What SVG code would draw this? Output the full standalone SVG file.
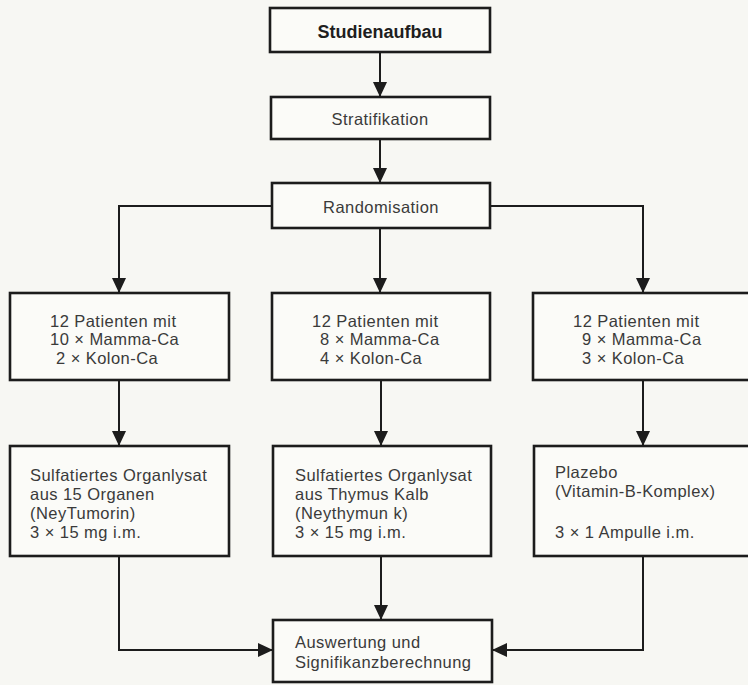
<svg xmlns="http://www.w3.org/2000/svg" width="748" height="685" viewBox="0 0 748 685">
<style>
.box{fill:#fbfbf8;stroke:#1c1c1c;stroke-width:2.6}
.t{font-family:"Liberation Sans",Arial,Helvetica,sans-serif;font-size:16.5px;letter-spacing:0.45px;fill:#3a3a3a}
.c{text-anchor:middle}
.b{font-weight:bold;font-size:18px;letter-spacing:0;fill:#1e1e1e}
.conn{fill:none;stroke:#1c1c1c;stroke-width:2;marker-end:url(#ah)}
</style>
<defs>
<marker id="ah" viewBox="0 0 15 14" refX="15" refY="7" markerWidth="15" markerHeight="14" markerUnits="userSpaceOnUse" orient="auto">
<path d="M0,0 L15,7 L0,14 Z" fill="#1c1c1c"/>
</marker>
</defs>
<rect x="0" y="0" width="748" height="685" fill="#f7f7f3"/>
<g id="connectors">
<path class="conn" d="M380,52 V97"/>
<path class="conn" d="M380,139 V183"/>
<path class="conn" d="M380,228 V293"/>
<path class="conn" d="M272,206 H119 V293"/>
<path class="conn" d="M490,206 H643 V293"/>
<path class="conn" d="M119,380 V446"/>
<path class="conn" d="M381,380 V446"/>
<path class="conn" d="M643,380 V446"/>
<path class="conn" d="M119,556 V650 H273"/>
<path class="conn" d="M381,556 V620"/>
<path class="conn" d="M643,556 V650 H492"/>
</g>
<g id="studienaufbau">
<rect class="box" x="270" y="8" width="220" height="44"/>
<text class="t c b" x="380" y="38">Studienaufbau</text>
</g>
<g id="stratifikation">
<rect class="box" x="271" y="97" width="219" height="42"/>
<text class="t c" x="380" y="125">Stratifikation</text>
</g>
<g id="randomisation">
<rect class="box" x="272" y="183" width="218" height="45"/>
<text class="t c" x="381" y="213">Randomisation</text>
</g>
<g id="gruppe1">
<rect class="box" x="10" y="293" width="219" height="87"/>
<text class="t" x="50" y="326.5">12 Patienten mit</text>
<text class="t" x="50" y="345">10 × Mamma-Ca</text>
<text class="t" x="56" y="363.5">2 × Kolon-Ca</text>
</g>
<g id="gruppe2">
<rect class="box" x="272" y="293" width="218" height="87"/>
<text class="t" x="312" y="326.5">12 Patienten mit</text>
<text class="t" x="320" y="345">8 × Mamma-Ca</text>
<text class="t" x="320" y="363.5">4 × Kolon-Ca</text>
</g>
<g id="gruppe3">
<rect class="box" x="533" y="293" width="230" height="87"/>
<text class="t" x="573" y="326.5">12 Patienten mit</text>
<text class="t" x="582" y="345">9 × Mamma-Ca</text>
<text class="t" x="582" y="363.5">3 × Kolon-Ca</text>
</g>
<g id="behandlung1">
<rect class="box" x="10" y="446" width="219" height="110"/>
<text class="t" x="30" y="481">Sulfatiertes Organlysat</text>
<text class="t" x="30" y="500">aus 15 Organen</text>
<text class="t" x="30" y="519">(NeyTumorin)</text>
<text class="t" x="30" y="538">3 × 15 mg i.m.</text>
</g>
<g id="behandlung2">
<rect class="box" x="273" y="446" width="218" height="110"/>
<text class="t" x="295" y="481">Sulfatiertes Organlysat</text>
<text class="t" x="295" y="500">aus Thymus Kalb</text>
<text class="t" x="295" y="519">(Neythymun k)</text>
<text class="t" x="295" y="538">3 × 15 mg i.m.</text>
</g>
<g id="plazebo">
<rect class="box" x="534" y="446" width="229" height="110"/>
<text class="t" x="555" y="478">Plazebo</text>
<text class="t" x="555" y="497">(Vitamin-B-Komplex)</text>
<text class="t" x="555" y="538">3 × 1 Ampulle i.m.</text>
</g>
<g id="auswertung">
<rect class="box" x="273" y="620" width="219" height="62"/>
<text class="t" x="295" y="648">Auswertung und</text>
<text class="t" x="295" y="668">Signifikanzberechnung</text>
</g>
</svg>
